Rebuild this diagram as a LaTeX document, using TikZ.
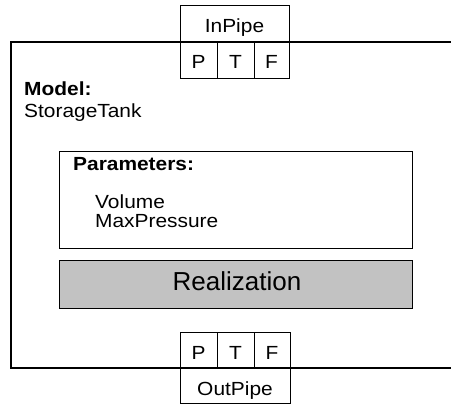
\documentclass[tikz,border=0pt]{standalone}
\usepackage{fontspec}
\setmainfont{Liberation Sans}
\newfontfamily\widefont[FakeStretch=1.1]{Liberation Sans}
\tikzset{
  boxline/.style={draw=black, line width=1.1bp},
  thinline/.style={draw=black, line width=0.9bp},
  small/.style={font=\widefont\fontsize{19bp}{21bp}\selectfont, inner sep=0pt},
  smallbold/.style={font=\widefont\bfseries\fontsize{19bp}{21bp}\selectfont, inner sep=0pt},
  big/.style={font=\fontsize{26bp}{28bp}\selectfont, inner sep=0pt},
}
\begin{document}
\begin{tikzpicture}[x=1bp,y=-1bp]
\useasboundingbox (0,0) rectangle (451,405);
% outer model box (open at right)
\draw[boxline] (451,42) -- (11,42) -- (11,368) -- (451,368);
% InPipe connector
\draw[thinline, fill=white] (180,5) rectangle (289,78);
\draw[boxline] (180,42) -- (289,42);
\draw[thinline] (217,42) -- (217,78);
\draw[thinline] (254,42) -- (254,78);
\node[small, anchor=base] (inpipe) at (234.5,32) {InPipe};
\node[small, anchor=base] (ip) at (198.5,68) {P};
\node[small, anchor=base] (it) at (235.5,68) {T};
\node[small, anchor=base] (if) at (271.5,68) {F};
% OutPipe connector
\draw[thinline, fill=white] (180,332) rectangle (290,403);
\draw[boxline] (180,368) -- (290,368);
\draw[thinline] (217,332) -- (217,368);
\draw[thinline] (254,332) -- (254,368);
\node[small, anchor=base] (op) at (198.5,359) {P};
\node[small, anchor=base] (ot) at (235.5,359) {T};
\node[small, anchor=base] (of) at (272,359) {F};
\node[small, anchor=base] (outpipe) at (235,395) {OutPipe};
% model label
\node[smallbold, anchor=base west] (model) at (24,95) {Model:};
\node[small, anchor=base west] (name) at (24,117) {StorageTank};
% parameters box
\draw[thinline] (59,151) rectangle (412,248);
\node[smallbold, anchor=base west] (params) at (73,170) {Parameters:};
\node[small, anchor=base west] (vol) at (95,208) {Volume};
\node[small, anchor=base west] (maxp) at (95,227) {MaxPressure};
% realization box
\draw[thinline, fill=black!24] (59,260) rectangle (412,308);
\node[big, anchor=base] (real) at (237,290) {Realization};
\end{tikzpicture}
\end{document}
